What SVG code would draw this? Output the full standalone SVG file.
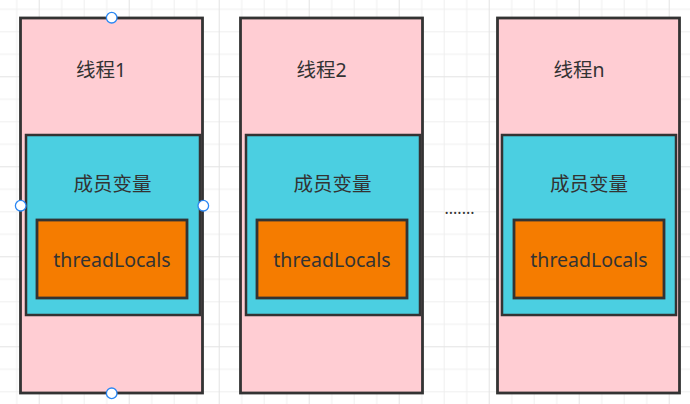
<svg xmlns="http://www.w3.org/2000/svg" width="690" height="404" viewBox="0 0 690 404">
  <style>
    .outer { fill: #ffcdd3; stroke: #333333; stroke-width: 2.8; }
    .member { fill: #4bcfe1; stroke: #333333; stroke-width: 2.5; }
    .tl { fill: #f57c00; stroke: #333333; stroke-width: 2.8; }
    .t { font-family: "Noto Sans", "Noto Sans CJK SC", sans-serif; fill: #333333; text-anchor: middle; }
    .title { font-size: 19.5px; }
    .mem { font-size: 19.5px; }
    .tlt { font-size: 19.5px; }
    .handle { fill: #ffffff; stroke: #2b87f3; stroke-width: 1.3; }
  </style>
  <defs>
    <pattern id="grid" patternUnits="userSpaceOnUse" x="38.7" y="76.3" width="90" height="90">
      <rect x="0" y="0" width="90" height="90" fill="#ffffff"/>
      <rect x="22.5" y="0" width="1" height="90" fill="#efefef"/>
      <rect x="45" y="0" width="1" height="90" fill="#efefef"/>
      <rect x="67.5" y="0" width="1" height="90" fill="#efefef"/>
      <rect x="0" y="22.5" width="90" height="1" fill="#efefef"/>
      <rect x="0" y="45" width="90" height="1" fill="#efefef"/>
      <rect x="0" y="67.5" width="90" height="1" fill="#efefef"/>
      <rect x="0" y="0" width="1" height="90" fill="#e3e3e3"/>
      <rect x="0" y="0" width="90" height="1" fill="#e3e3e3"/>
    </pattern>
  </defs>
  <rect x="0" y="0" width="690" height="404" fill="url(#grid)"/>

  <g id="thread1">
    <rect class="outer" x="20.5" y="18" width="182" height="375"/>
    <text class="t title" x="101" y="77">线程1</text>
    <g id="member1">
      <rect class="member" x="26" y="135" width="174" height="180"/>
      <text class="t mem" x="112.5" y="191">成员变量</text>
    </g>
    <g id="threadLocals1">
      <rect class="tl" x="37" y="220" width="150" height="78"/>
      <text class="t tlt" x="112" y="266.5">threadLocals</text>
    </g>
  </g>

  <g id="thread2">
    <rect class="outer" x="240.5" y="18" width="182" height="375"/>
    <text class="t title" x="321.5" y="77">线程2</text>
    <g id="member2">
      <rect class="member" x="246" y="135" width="174" height="180"/>
      <text class="t mem" x="332.5" y="191">成员变量</text>
    </g>
    <g id="threadLocals2">
      <rect class="tl" x="257" y="220" width="150" height="78"/>
      <text class="t tlt" x="332" y="266.5">threadLocals</text>
    </g>
  </g>

  <g id="ellipsis">
    <text class="t" x="459.5" y="214" font-size="16">.......</text>
  </g>

  <g id="threadN">
    <rect class="outer" x="497.5" y="18" width="182" height="375"/>
    <text class="t title" x="579" y="77">线程n</text>
    <g id="memberN">
      <rect class="member" x="502" y="135" width="174" height="180"/>
      <text class="t mem" x="589" y="191">成员变量</text>
    </g>
    <g id="threadLocalsN">
      <rect class="tl" x="514" y="220" width="150" height="78"/>
      <text class="t tlt" x="589" y="266.5">threadLocals</text>
    </g>
  </g>

  <g id="connectors"></g>

  <g id="selection-handles">
    <circle class="handle" cx="111.7" cy="17.7" r="5.3"/>
    <circle class="handle" cx="111.7" cy="393.3" r="5.3"/>
    <circle class="handle" cx="20.7" cy="205.7" r="5.3"/>
    <circle class="handle" cx="203.3" cy="205.7" r="5.3"/>
  </g>
</svg>
